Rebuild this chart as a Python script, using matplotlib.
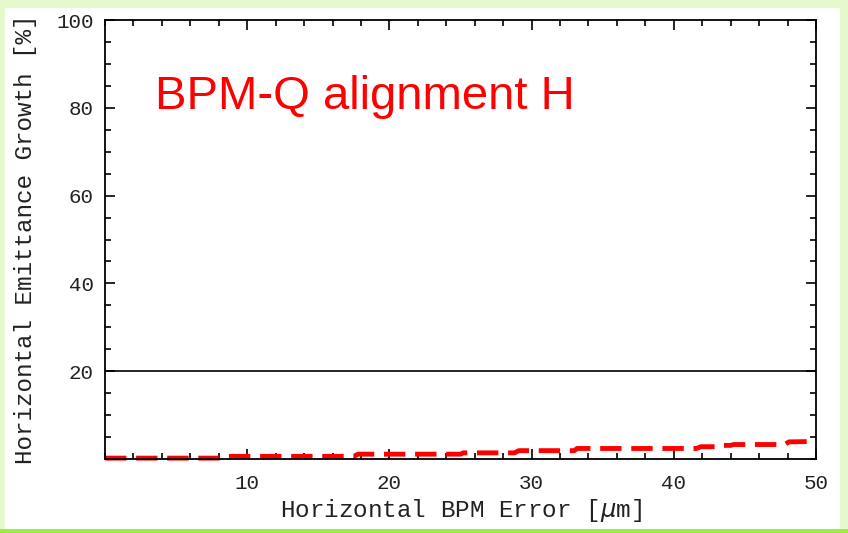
import matplotlib.pyplot as plt
from matplotlib.patches import Rectangle
from matplotlib.ticker import MultipleLocator

# BPM error [um] and emittance growth [%] (step-like)
bpm_err = [0, 8, 8.2, 17.5, 17.8, 25, 25.2, 28.8, 29.1, 33, 33.2, 41.6, 41.9, 42.9,
           43.1, 44, 44.2, 47.8, 48.1, 50]
growth = [0.2, 0.2, 0.6, 0.6, 1.1, 1.1, 1.4, 1.4, 1.9, 1.9, 2.4, 2.4, 2.8, 2.8,
          3.1, 3.1, 3.3, 3.3, 3.9, 4.0]
limit = 20

xticks = [10, 20, 30, 40, 50]
yticks = [20, 40, 60, 80, 100]

mono = 'Liberation Mono'

fig = plt.figure(figsize=(8.48, 5.33), dpi=100)
fig.patch.set_facecolor('#e6f9cc')
# white slide area with a green strip at the bottom
fig.patches.append(Rectangle((5 / 848, 4 / 533), 835 / 848, 521 / 533,
                             transform=fig.transFigure, facecolor='white',
                             edgecolor='none', zorder=-2))
fig.patches.append(Rectangle((0, 0), 1, 4 / 533, transform=fig.transFigure,
                             facecolor='#99ee44', edgecolor='none', zorder=-2))

ax = fig.add_axes([105 / 848, (533 - 459) / 533, 711 / 848, 439 / 533])
ax.set_zorder(1)
ax.set_xlim(0, 50)
ax.set_ylim(0, 100)

ax.axhline(limit, color='black', lw=1.2)
ax.plot(bpm_err, growth, color='red', lw=3.5, dashes=(4.4, 2.0), solid_capstyle='butt',
        clip_on=False)

ax.set_xticks(xticks)
ax.set_yticks(yticks)
ax.xaxis.set_minor_locator(MultipleLocator(2))
ax.yaxis.set_minor_locator(MultipleLocator(5))
ax.tick_params(which='both', direction='in', top=True, right=True, width=1.2,
               labelsize=15)
ax.tick_params(axis='x', which='both', pad=11)
ax.tick_params(axis='y', which='both', pad=8)
ax.tick_params(which='major', length=7)
ax.tick_params(which='minor', length=4)
for lab in ax.get_xticklabels() + ax.get_yticklabels():
    lab.set_family(mono)
    lab.set_color('#222222')
for sp in ax.spines.values():
    sp.set_linewidth(1.3)

ax.set_xlabel('Horizontal BPM Error [$\\mu$m]', family=mono, fontsize=17.5,
              color='#222222', labelpad=3)
ax.set_ylabel('Horizontal Emittance Growth [%]', family=mono, fontsize=17.5,
              color='#222222', labelpad=14)

fig.text(155 / 848, (533 - 109) / 533, 'BPM-Q alignment H', color='red',
         family='Liberation Sans', fontsize=34, va='baseline', zorder=3)

fig.savefig('out.png', dpi=100, facecolor=fig.get_facecolor())
